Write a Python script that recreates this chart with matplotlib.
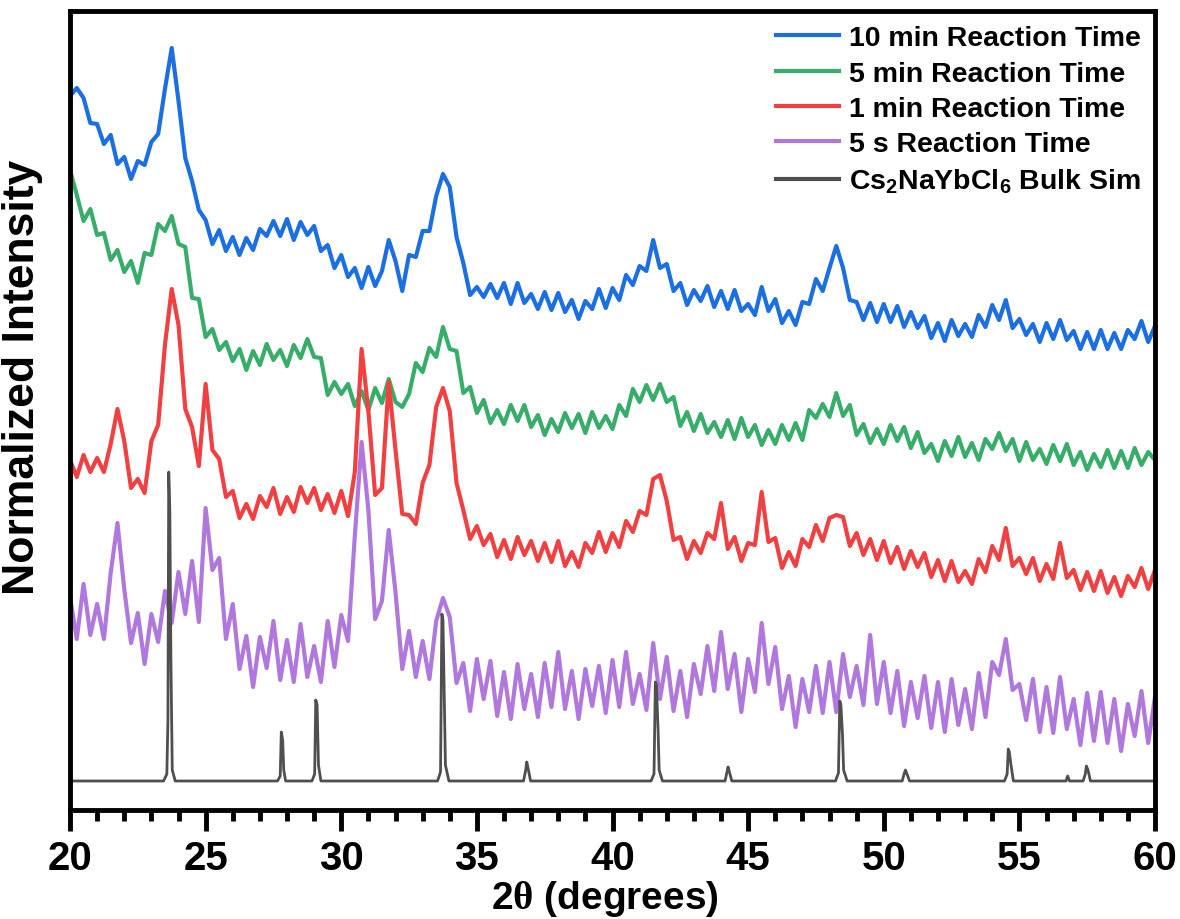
import numpy as np
import matplotlib
matplotlib.use("Agg")
import matplotlib.pyplot as plt

plt.rcParams['font.family'] = ['Liberation Sans', 'DejaVu Sans']
plt.rcParams['font.weight'] = 'bold'
plt.rcParams['mathtext.fontset'] = 'custom'
plt.rcParams['mathtext.rm'] = 'Liberation Serif'
plt.rcParams['mathtext.bf'] = 'Liberation Sans:bold'
plt.rcParams['mathtext.default'] = 'bf'

# 2-theta grid of the measured patterns (0.25 deg steps, 20..60)
two_theta = np.arange(20, 60.001, 0.25)

# normalized (offset) intensities, arbitrary units
i_10min = [714, 722, 712, 687, 686, 666, 675, 646,
           653, 631, 649, 645, 668, 676, 721, 762,
           709, 652, 629, 600, 590, 566, 580, 559,
           573, 555, 572, 560, 581, 574, 589, 574,
           591, 570, 588, 575, 584, 559, 565, 542,
           555, 533, 542, 522, 543, 524, 539, 570,
           549, 519, 555, 553, 579, 579, 614, 636,
           623, 573, 547, 515, 523, 513, 526, 512,
           527, 506, 527, 507, 516, 501, 518, 500,
           517, 498, 510, 491, 509, 501, 521, 502,
           522, 510, 535, 525, 544, 539, 570, 542,
           546, 519, 527, 505, 520, 509, 524, 503,
           519, 501, 520, 499, 506, 495, 523, 499,
           511, 487, 499, 485, 508, 506, 531, 519,
           542, 564, 542, 510, 508, 490, 507, 488,
           506, 488, 504, 483, 498, 482, 494, 472,
           487, 469, 490, 474, 486, 473, 495, 483,
           505, 490, 510, 482, 491, 475, 486, 468,
           487, 471, 490, 470, 479, 461, 478, 461,
           480, 461, 477, 461, 480, 471, 489, 468,
           484]

i_5min = [640, 615, 589, 601, 575, 577, 550, 560,
          538, 549, 527, 557, 555, 586, 579, 594,
          566, 563, 512, 511, 473, 481, 460, 468,
          449, 461, 440, 459, 445, 466, 450, 460,
          444, 465, 452, 471, 453, 452, 415, 428,
          416, 426, 404, 419, 400, 422, 407, 431,
          408, 403, 416, 447, 438, 462, 453, 483,
          461, 459, 417, 423, 397, 410, 387, 400,
          386, 405, 389, 405, 383, 395, 375, 391,
          378, 397, 382, 396, 377, 398, 382, 394,
          381, 405, 394, 421, 408, 425, 410, 426,
          408, 413, 384, 398, 379, 396, 377, 388,
          373, 390, 371, 392, 373, 385, 365, 380,
          366, 385, 370, 387, 370, 400, 392, 406,
          393, 417, 394, 405, 375, 386, 367, 381,
          366, 385, 369, 383, 362, 378, 357, 366,
          349, 369, 354, 373, 353, 367, 350, 371,
          361, 377, 359, 371, 349, 368, 350, 361,
          346, 365, 349, 366, 345, 358, 340, 356,
          343, 360, 342, 359, 342, 362, 345, 358,
          350]

i_1min = [350, 333, 355, 338, 352, 338, 366, 401,
          369, 322, 331, 317, 369, 385, 465, 521,
          485, 401, 383, 344, 426, 360, 351, 313,
          319, 292, 306, 291, 314, 303, 322, 296,
          313, 298, 323, 307, 322, 300, 316, 297,
          319, 294, 338, 461, 399, 315, 322, 428,
          360, 296, 295, 286, 327, 345, 403, 422,
          399, 327, 300, 271, 284, 265, 276, 253,
          270, 251, 273, 255, 269, 249, 267, 248,
          269, 244, 258, 243, 267, 257, 278, 258,
          277, 263, 289, 278, 299, 295, 331, 335,
          309, 270, 273, 251, 269, 257, 277, 271,
          307, 261, 273, 249, 267, 265, 318, 268,
          272, 242, 258, 244, 271, 263, 285, 269,
          292, 295, 293, 264, 277, 255, 271, 250,
          269, 247, 263, 241, 259, 243, 257, 233,
          250, 229, 249, 228, 239, 226, 251, 238,
          264, 250, 282, 244, 252, 236, 252, 229,
          246, 231, 267, 232, 240, 220, 238, 219,
          239, 217, 233, 214, 234, 223, 242, 221,
          240]

i_5s = [213, 171, 226, 175, 206, 171, 237, 287,
        221, 167, 197, 146, 196, 168, 219, 187,
        238, 196, 249, 188, 302, 240, 252, 171,
        206, 141, 174, 123, 173, 142, 189, 130,
        170, 128, 186, 133, 164, 128, 189, 143,
        195, 169, 274, 368, 300, 191, 209, 280,
        218, 141, 179, 133, 169, 131, 189, 212,
        193, 127, 147, 99, 151, 111, 149, 94,
        138, 91, 146, 101, 136, 93, 147, 103,
        158, 101, 139, 91, 141, 104, 144, 97,
        150, 103, 158, 106, 136, 100, 167, 111,
        153, 99, 139, 93, 146, 116, 164, 119,
        178, 121, 156, 98, 151, 118, 187, 126,
        163, 101, 134, 83, 131, 98, 144, 97,
        148, 98, 156, 113, 144, 105, 175, 106,
        148, 97, 139, 84, 128, 92, 134, 82,
        128, 78, 131, 85, 121, 81, 137, 93,
        148, 135, 171, 120, 126, 90, 131, 78,
        123, 77, 133, 81, 111, 65, 117, 69,
        118, 67, 111, 59, 106, 74, 119, 67,
        113]

# simulated bulk pattern (Cs2NaYbCl6)
sim_two_theta = [20, 23.45, 23.57, 23.61, 23.64, 23.68, 23.72, 23.77, 23.88,
                 27.65, 27.75, 27.79, 27.84, 27.88, 27.95,
                 28.92, 29.02, 29.06, 29.11, 29.16, 29.25,
                 33.55, 33.66, 33.71, 33.75, 33.80, 33.84, 33.97,
                 36.72, 36.80, 36.84, 36.90, 36.98,
                 41.42, 41.53, 41.58, 41.62, 41.68, 41.72, 41.84,
                 44.15, 44.22, 44.26, 44.32, 44.40,
                 48.22, 48.33, 48.38, 48.42, 48.48, 48.52, 48.65,
                 50.68, 50.76, 50.80, 50.87, 50.95,
                 54.45, 54.55, 54.59, 54.63, 54.69, 54.78,
                 56.72, 56.78, 56.85,
                 57.35, 57.43, 57.47, 57.53, 57.62,
                 60]
sim_intensity = [29, 29, 36, 90, 338, 300, 150, 40, 29,
                 29, 34, 78, 70, 40, 29,
                 29, 36, 110, 105, 45, 29,
                 29, 38, 196, 190, 110, 45, 29,
                 29, 40, 48, 40, 29,
                 29, 36, 128, 125, 80, 40, 29,
                 29, 38, 43, 37, 29,
                 29, 37, 109, 105, 75, 40, 29,
                 29, 37, 40, 35, 29,
                 29, 36, 61, 58, 45, 29,
                 29, 34, 29,
                 29, 36, 44, 40, 29,
                 29]

labels = ['10 min Reaction Time', '5 min Reaction Time', '1 min Reaction Time',
          '5 s Reaction Time', r'Cs$_2$NaYbCl$_6$ Bulk Sim']
colors = ['#1b6fe0', '#38ad6a', '#f04142', '#b078dc', '#4f4f4f']

fig = plt.figure(figsize=(11.8, 9.2), dpi=100)
ax = fig.add_axes([70 / 1180, 109 / 920, 1085 / 1180, 799 / 920])

for ys, lab, c in zip([i_10min, i_5min, i_1min, i_5s], labels[:4], colors[:4]):
    ax.plot(two_theta, ys, color=c, lw=3.0, label=lab)
ax.plot(sim_two_theta, sim_intensity, color=colors[4], lw=2.0, label=labels[4])

ax.set_xlim(20, 60)
ax.set_ylim(0, 799)
ax.set_xticks(np.arange(20, 61, 5))
ax.set_xticks(np.arange(20, 61, 1), minor=True)
ax.set_yticks([])
ax.tick_params(axis='x', which='major', direction='out', length=15, width=3.5,
               labelsize=29, pad=6)
ax.tick_params(axis='x', which='minor', direction='out', length=8, width=3.5)
for s in ax.spines.values():
    s.set_linewidth(3.5)

ax.set_xlabel(r'2$\mathrm{\theta}$ (degrees)', fontsize=28, fontweight='bold')
ax.xaxis.set_label_coords(0.493, -0.085)
ax.set_ylabel('Normalized Intensity', fontsize=32, fontweight='bold')
ax.yaxis.set_label_coords(-0.025, 0.543)

leg = ax.legend(loc='upper right', frameon=False, fontsize=20.5,
                handlelength=2.2, handletextpad=0.35, labelspacing=0.33,
                borderaxespad=0.1)
for h in leg.get_lines():
    h.set_linewidth(3)

fig.savefig('out.png', dpi=100)
